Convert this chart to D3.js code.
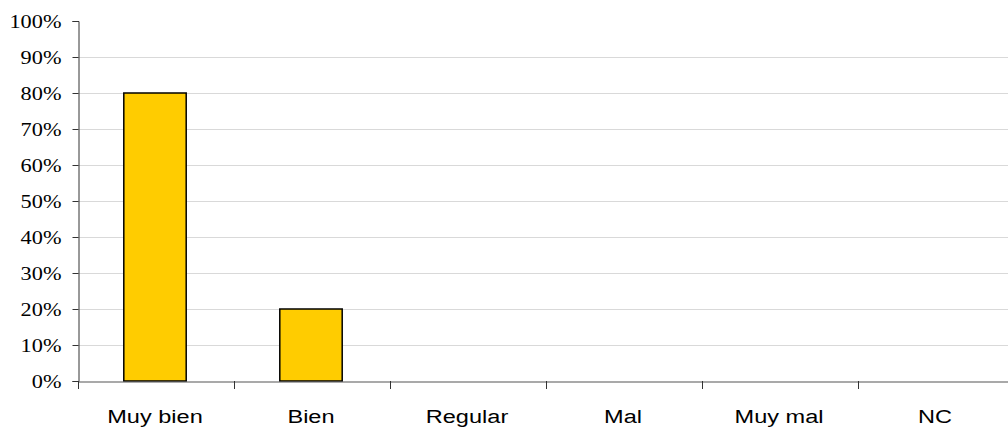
<!DOCTYPE html>
<html>
<head>
<meta charset="utf-8">
<script src="https://cdn.jsdelivr.net/npm/d3@7"></script>
<style>
html,body{margin:0;padding:0;background:#fff;overflow:hidden;}
svg{display:block;}
</style>
</head>
<body>
<svg id="chart" width="1008" height="431"></svg>
<script>
const categories = ["Muy bien", "Bien", "Regular", "Mal", "Muy mal", "NC"];
const values = [80, 20, 0, 0, 0, 0];
const yTicks = [0, 10, 20, 30, 40, 50, 60, 70, 80, 90, 100];

(function () {
const svg = d3.select("#chart");
const pLeft = 78, pRight = 1014, pTop = 21, pBottom = 381;
const stretch = 1.24;

const x = d3.scaleBand().domain(categories).range([pLeft, pRight]).paddingInner(0).paddingOuter(0);
const y = d3.scaleLinear().domain([0, 100]).range([pBottom, pTop]);

// gridlines
svg.append("g").selectAll("line").data(yTicks.filter(t => t > 0 && t < 100)).join("line")
  .attr("x1", pLeft).attr("x2", 1008)
  .attr("y1", d => Math.round(y(d)) + 0.5).attr("y2", d => Math.round(y(d)) + 0.5)
  .attr("stroke", "#d9d9d9").attr("stroke-width", 1);

// bars
const barW = x.bandwidth() * 0.4;
svg.append("g").selectAll("rect").data(values.map((v, i) => ({c: categories[i], v})).filter(d => d.v > 0)).join("rect")
  .attr("x", d => x(d.c) + (x.bandwidth() - barW) / 2 - 1)
  .attr("y", d => y(d.v))
  .attr("width", barW)
  .attr("height", d => y(0) - y(d.v))
  .attr("fill", "#FFCC00")
  .attr("stroke", "#000").attr("stroke-width", 1.5);

// y axis
const yAxis = d3.axisLeft(y).tickValues(yTicks).tickSize(6).tickFormat(d => d + "%");
const gy = svg.append("g").attr("transform", `translate(${pLeft + 0.5},0)`).call(yAxis);
gy.attr("font-family", null).attr("font-size", null);
gy.select(".domain").attr("stroke", "#333");
gy.selectAll(".tick line").attr("stroke", "#333");
gy.selectAll(".tick text").remove();
gy.selectAll(".tick").append("text")
  .attr("text-anchor", "end")
  .style("font-family", '"Liberation Serif"')
  .style("font-size", "18px")
  .attr("fill", "#000")
  .attr("transform", `translate(-17,6) scale(${stretch},1)`)
  .text(d => d + "%");

// x axis
const xAxis = d3.axisBottom(x).tickSize(0).tickFormat("");
const gx = svg.append("g").attr("transform", `translate(0,${pBottom + 0.5})`).call(xAxis);
gx.select(".domain").attr("stroke", "#555").attr("stroke-width", 1.2);
gx.selectAll(".tick").remove();
// boundary ticks
svg.append("g").selectAll("line").data(categories).join("line")
  .attr("x1", d => Math.round(x(d)) + 0.5).attr("x2", d => Math.round(x(d)) + 0.5)
  .attr("y1", pBottom).attr("y2", pBottom + 8)
  .attr("stroke", "#333");
// labels
svg.append("g").selectAll("text").data(categories).join("text")
  .attr("text-anchor", "middle")
  .style("font-family", '"Liberation Sans"')
  .style("font-size", "19px")
  .attr("fill", "#000")
  .attr("transform", d => `translate(${x(d) + x.bandwidth() / 2 - 1},423) scale(${stretch},1)`)
  .text(d => d);
})();
</script>
</body>
</html>
